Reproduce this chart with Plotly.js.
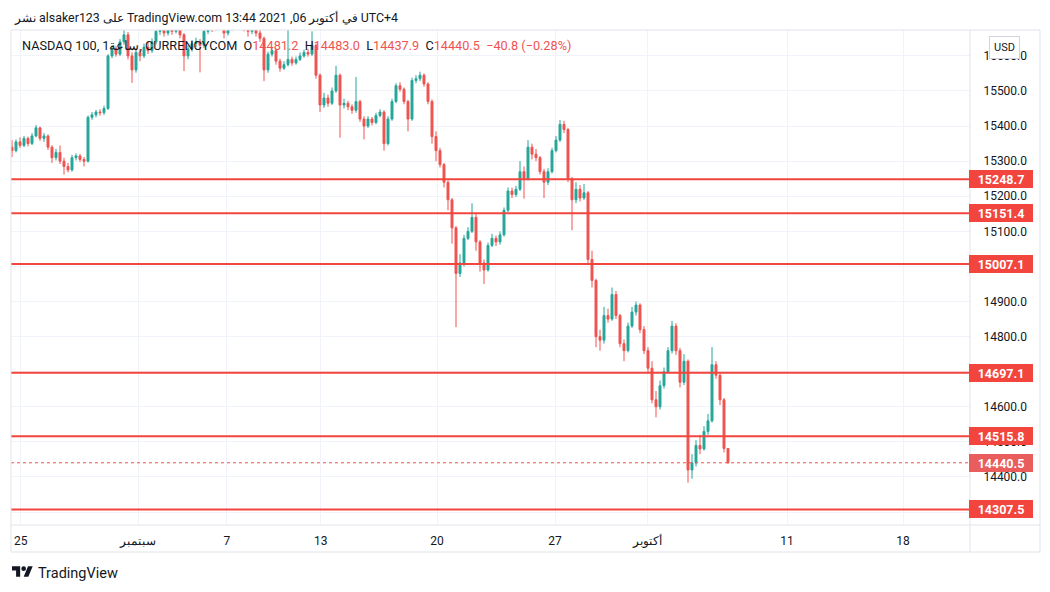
<!DOCTYPE html>
<html><head><meta charset="utf-8">
<script src="https://cdn.plot.ly/plotly-3.0.1.min.js"></script>
<style>html,body{margin:0;padding:0;background:#fff;}#chart{width:1050px;height:592px;}</style>
</head><body><div id="chart"></div>
<script>
// ---- data (hourly NASDAQ 100 candles, resampled) ----
const firstOpen = 15340;
const closes = [15330,15355,15345,15365,15350,15372,15395,15365,15372,15340,
15310,15325,15300,15285,15275,15310,15315,15305,15300,15425,
15432,15440,15438,15450,15600,15620,15605,15640,15660,15600,
15560,15610,15600,15625,15615,15640,15670,15690,15665,15685,
15670,15695,15660,15600,15620,15635,15640,15630,15670,15690,
15680,15700,15690,15665,15680,15700,15690,15700,15680,15670,
15685,15665,15650,15560,15605,15615,15585,15565,15575,15590,
15580,15590,15600,15610,15605,15630,15545,15460,15480,15465,
15500,15545,15460,15465,15455,15445,15470,15420,15400,15420,
15410,15430,15440,15350,15420,15470,15515,15505,15470,15420,
15530,15535,15545,15520,15470,15370,15330,15290,15240,15190,
15110,14980,15010,15080,15100,15140,15070,15010,14990,15060,
15080,15070,15090,15160,15215,15205,15220,15270,15250,15340,
15320,15310,15270,15240,15270,15330,15360,15405,15390,15250,
15190,15220,15195,15210,15020,14960,14800,14790,14860,14850,
14920,14860,14780,14760,14830,14870,14890,14820,14760,14710,
14620,14600,14660,14700,14760,14830,14760,14670,14730,14420,
14440,14490,14480,14530,14560,14720,14690,14620,14481.2,14440.5];
const highs = [15360,15362,15368,15372,15370,15380,15403,15398,15380,15376,
15345,15335,15345,15310,15295,15318,15322,15320,15312,15430,
15440,15446,15448,15458,15605,15630,15628,15648,15685,15668,
15610,15618,15620,15635,15640,15650,15680,15705,15698,15700,
15695,15710,15700,15665,15630,15645,15652,15648,15680,15702,
15698,15712,15708,15695,15690,15712,15708,15715,15706,15690,
15698,15692,15675,15655,15612,15625,15620,15592,15585,15680,
15598,15598,15610,15618,15620,15670,15635,15550,15495,15490,
15510,15572,15550,15478,15472,15462,15540,15475,15428,15428,
15426,15438,15448,15445,15428,15478,15522,15525,15510,15475,
15538,15545,15555,15550,15525,15476,15385,15338,15295,15245,
15195,15115,15035,15090,15112,15180,15150,15075,15020,15068,
15093,15088,15100,15168,15225,15225,15230,15300,15285,15360,
15350,15335,15315,15278,15280,15338,15372,15417,15415,15395,
15255,15240,15232,15235,15215,15045,14965,14820,14885,14880,
14940,14930,14865,14792,14840,14885,14900,14895,14830,14770,
14730,14645,14675,14712,14770,14845,14838,14768,14750,14735,
14465,14505,14520,14545,14580,14770,14730,14695,14625,14483.0];
const lows = [15312,15325,15338,15340,15342,15346,15368,15358,15355,15332,
15295,15302,15292,15262,15268,15270,15302,15298,15285,15296,
15418,15425,15430,15432,15446,15594,15598,15600,15632,15590,
15523,15552,15585,15594,15605,15608,15632,15660,15655,15658,
15660,15664,15650,15557,15590,15612,15625,15553,15622,15662,
15668,15672,15680,15650,15658,15672,15680,15682,15670,15655,
15662,15655,15640,15528,15552,15598,15575,15555,15560,15570,
15572,15575,15585,15595,15598,15600,15535,15440,15452,15455,
15460,15495,15367,15450,15445,15435,15438,15412,15362,15395,
15402,15405,15425,15330,15345,15415,15465,15498,15462,15385,
15415,15522,15528,15512,15462,15350,15300,15282,15225,15160,
15065,14827,14970,15000,15075,15095,15045,14985,14950,14985,
15055,15058,15062,15085,15155,15195,15198,15215,15193,15245,
15305,15300,15262,15195,15232,15265,15325,15355,15380,15240,
15103,15180,15185,15190,15008,14940,14770,14760,14780,14840,
14845,14850,14770,14730,14755,14825,14860,14810,14750,14695,
14610,14570,14592,14652,14695,14752,14748,14655,14662,14384,
14395,14430,14465,14475,14520,14555,14680,14605,14470,14437.9];

const tickPos = [2.2, 31.5, 53.7, 77.2, 106.25, 135.75, 158.75, 193.75, 222.75];
const tickLabels = ['25', 'سبتمبر', '7', '13', '20', '27', 'أكتوبر', '11', '18'];
const priceTicks = [14300,14400,14500,14600,14700,14800,14900,15000,15100,15200,15300,15400,15500,15600];
// labels hidden behind the red level tags in the reference are left blank
const priceTickLabels = ['', '14400.0', '14500.0', '14600.0', '', '14800.0', '14900.0', '', '15100.0', '15200.0', '15300.0', '15400.0', '15500.0', '15600.0'];
const levels = [15248.7, 15151.4, 15007.1, 14697.1, 14515.8, 14307.5];
const lastPrice = 14440.5;
const legendOHLC = {o:'14481.2', h:'14483.0', l:'14437.9', c:'14440.5', chg:'−40.8 (−0.28%)'};

// ---- build ----
const idx = closes.map((_, i) => i);
const opens = closes.map((c, i) => i === 0 ? firstOpen : closes[i - 1]);

const FONT = 'Roboto, "Liberation Sans", Arial, sans-serif';
const TXT = '#131722';
const RED = '#f2453d';
const UP = '#26a69a', DOWN = '#ef5350';

// pixel helpers for paper coords (plot area x 11..970, y 30..525)
const PX = p => (p - 11) / 959;
const PY = p => (525 - p) / 495;

const trace = {
  type: 'candlestick', x: idx, open: opens, high: highs, low: lows, close: closes,
  increasing: {line: {color: UP, width: 1}, fillcolor: UP},
  decreasing: {line: {color: DOWN, width: 1}, fillcolor: DOWN},
  whiskerwidth: 0, hoverinfo: 'skip', showlegend: false
};

const shapes = [];
levels.forEach(v => shapes.push({type:'line', xref:'paper', yref:'y', x0:0, x1:1, y0:v, y1:v,
  line:{color:RED, width:2}, layer:'above'}));
shapes.push({type:'line', xref:'paper', yref:'y', x0:0, x1:1, y0:lastPrice, y1:lastPrice,
  line:{color:DOWN, width:1, dash:'dot'}, layer:'above'});
// frame
const frame = '#e0e3eb';
const fx0 = PX(11), fx1 = PX(1040), fxm = PX(970), fy0 = PY(30), fy1 = PY(552), fym = PY(525);
[[fx0,fy0,fx1,fy0],[fx0,fym,fx1,fym],[fx0,fy1,fx1,fy1],[fx0,fy0,fx0,fy1],[fxm,fy0,fxm,fy1],[fx1,fy0,fx1,fy1]]
  .forEach(s => shapes.push({type:'line', xref:'paper', yref:'paper', x0:s[0], y0:s[1], x1:s[2], y1:s[3],
    line:{color:frame, width:1}, layer:'above'}));

const annotations = [];
annotations.push({xref:'paper', yref:'paper', x:PX(12), y:PY(17), xanchor:'left', yanchor:'middle', showarrow:false,
  text:'نشر alsaker123 على TradingView.com في أكتوبر 06, 2021 13:44 UTC+4', font:{family:FONT, size:12.4, color:TXT}});
const rs = s => '<span style="color:' + DOWN + '">' + s + '</span>';
const sp = '\u00a0\u00a0';
annotations.push({xref:'paper', yref:'paper', x:PX(20), y:PY(46), xanchor:'left', yanchor:'middle', showarrow:false,
  text:'NASDAQ 100, 1ساعة, CURRENCYCOM' + sp + 'O' + rs(legendOHLC.o) + sp + 'H' + rs(legendOHLC.h) + sp + 'L' + rs(legendOHLC.l) + sp + 'C' + rs(legendOHLC.c) + sp + rs(legendOHLC.chg),
  font:{family:FONT, size:12.7, color:TXT}});
annotations.push({xref:'paper', yref:'paper', x:PX(36), y:PY(573), xanchor:'left', yanchor:'middle', showarrow:false,
  text:'TradingView', font:{family:FONT, size:14.5, color:TXT}});
annotations.push({xref:'paper', yref:'paper', x:PX(1004), y:PY(47), xanchor:'center', yanchor:'middle', showarrow:false,
  text:'USD', font:{family:FONT, size:11, color:TXT}, bgcolor:'#ffffff', bordercolor:'#d1d4dc', borderwidth:1, borderpad:4});
levels.forEach(v => annotations.push({xref:'paper', yref:'y', x:PX(969), y:v, xanchor:'left', yanchor:'middle', showarrow:false,
  text:'<b>' + v.toFixed(1) + '</b>', font:{family:FONT, size:12.5, color:'#ffffff'}, bgcolor:RED, borderpad:1, borderwidth:0,
  width:62, height:16, align:'center'}));
annotations.push({xref:'paper', yref:'y', x:PX(969), y:lastPrice, xanchor:'left', yanchor:'middle', showarrow:false,
  text:'<b>' + lastPrice.toFixed(1) + '</b>', font:{family:FONT, size:12.5, color:'#ffffff'}, bgcolor:'#e95d5d', borderpad:1, borderwidth:0,
  width:62, height:16, align:'center'});

const logoSvg = '<svg xmlns="http://www.w3.org/2000/svg" viewBox="0 0 36 28"><path fill="#131722" d="M14 22H7V11H0V4h14v18zM28 22h-8l7.5-18h8L28 22z"/><circle fill="#131722" cx="20" cy="8" r="4"/></svg>';

const layout = {
  width: 1050, height: 592,
  margin: {l: 11, r: 80, t: 30, b: 67, pad: 0},
  paper_bgcolor: '#ffffff', plot_bgcolor: '#ffffff',
  showlegend: false, dragmode: false,
  font: {family: FONT, color: TXT, size: 12},
  xaxis: {type: 'linear', range: [-0.25, 239.5], tickvals: tickPos, ticktext: tickLabels,
    showgrid: true, gridcolor: '#f0f3fa', gridwidth: 1, zeroline: false, showline: false,
    ticks: 'outside', ticklen: 5, tickcolor: 'rgba(0,0,0,0)',
    tickfont: {family: FONT, size: 12, color: TXT}, rangeslider: {visible: false}, fixedrange: true},
  yaxis: {side: 'right', range: [14263.2, 15673.8], tickvals: priceTicks, ticktext: priceTickLabels,
    showgrid: true, gridcolor: '#f0f3fa', gridwidth: 1, zeroline: false, showline: false,
    ticks: 'outside', ticklen: 10, tickcolor: 'rgba(0,0,0,0)',
    tickfont: {family: FONT, size: 12, color: TXT}, fixedrange: true},
  shapes: shapes,
  annotations: annotations,
  images: [{source: 'data:image/svg+xml;charset=utf-8,' + encodeURIComponent(logoSvg),
    xref: 'paper', yref: 'paper', x: PX(12), y: PY(564), sizex: 21 / 959, sizey: 16.3 / 495,
    xanchor: 'left', yanchor: 'top', sizing: 'stretch', layer: 'above'}]
};

Plotly.newPlot('chart', [trace], layout, {staticPlot: true, displayModeBar: false});
</script></body></html>
